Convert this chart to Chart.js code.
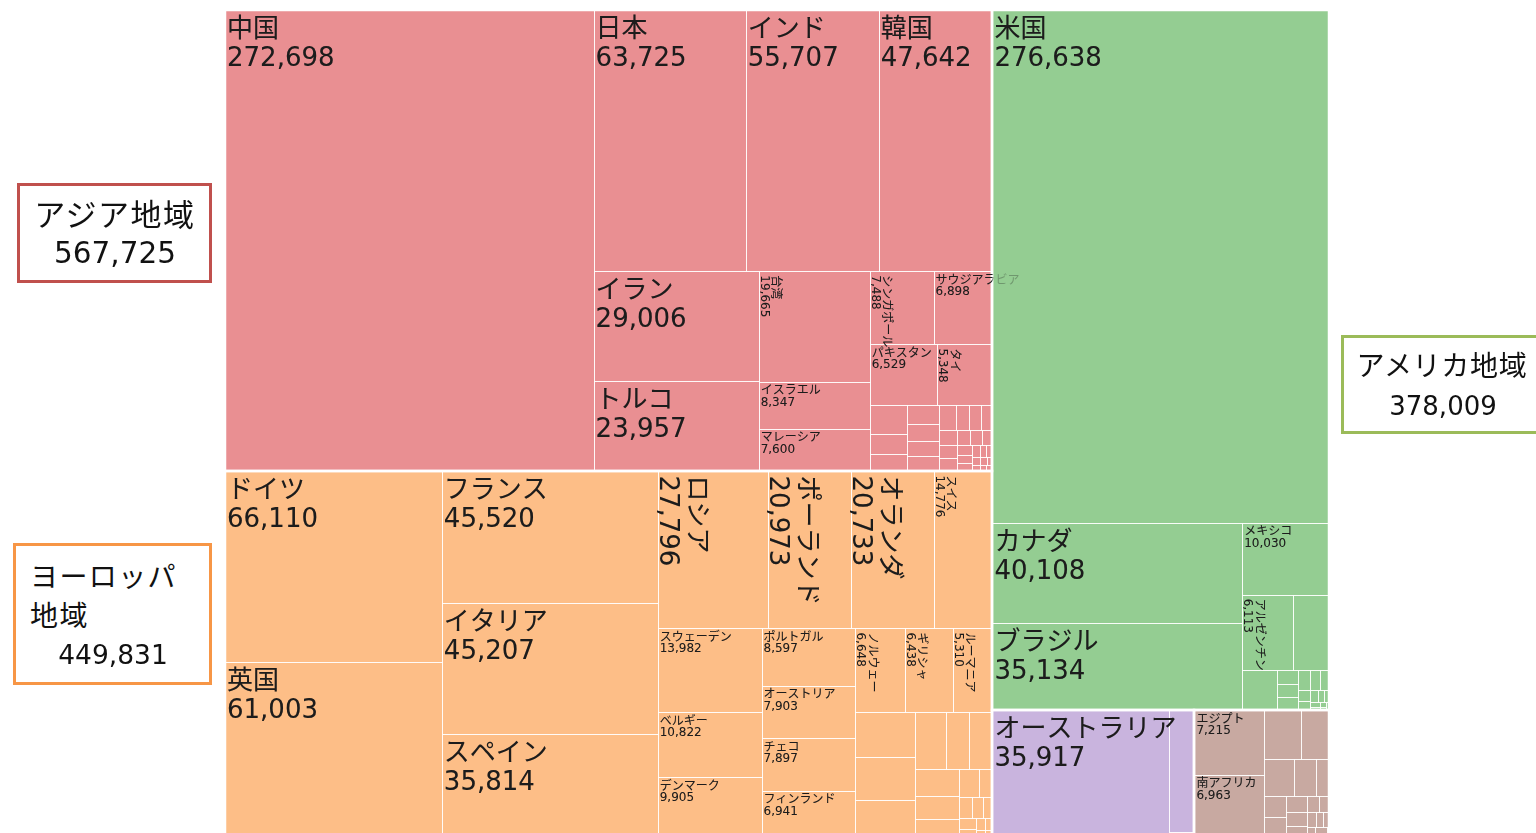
<!DOCTYPE html>
<html lang="ja">
<head>
<meta charset="utf-8">
<script src="https://cdn.jsdelivr.net/npm/chart.js@4.4.1/dist/chart.umd.min.js"></script>
<style>
html,body{margin:0;padding:0;background:#fff;overflow:hidden;width:1536px;height:833px;}
#wrap{position:absolute;left:0;top:0;width:1536px;height:842px;}
.box{position:absolute;box-sizing:border-box;background:#fff;}
.t{position:absolute;white-space:nowrap;color:#111;}
.jp{font-family:'Noto Sans CJK JP',sans-serif;}
.num{font-family:'DejaVu Sans',sans-serif;}
</style>
</head>
<body>
<div id="wrap"><canvas id="c" width="1536" height="842"></canvas></div>
<div id="boxes"></div>
<script>
// ---------------- data ----------------
const regionNames = ['アジア地域', 'ヨーロッパ地域', 'アメリカ地域', 'オセアニア地域', 'アフリカ地域'];

const asiaNames = ['中国','日本','インド','韓国','イラン','トルコ','台湾','イスラエル','マレーシア','シンガポール','サウジアラビア','パキスタン','タイ',
  'ベトナム','インドネシア','アラブ首長国連邦','バングラデシュ','イラク','カタール','ヨルダン','レバノン','カザフスタン','オマーン','スリランカ',
  'クウェート','フィリピン','ネパール','パレスチナ','モンゴル','ウズベキスタン','アゼルバイジャン','ジョージア','アルメニア','カンボジア','ミャンマー',
  'ブルネイ','バーレーン','ラオス','イエメン','アフガニスタン','キルギス','タジキスタン'];
const asiaValues = [272698,63725,55707,47642,29006,23957,19665,8347,7600,7488,6898,6529,5348,
  1790,1200,1030,1010,870,780,770,660,560,470,460,
  420,400,380,300,280,250,220,200,180,160,140,120,100,90,80,70,65,60];

const europeNames = ['ドイツ','英国','フランス','イタリア','スペイン','ロシア','ポーランド','オランダ','スイス','スウェーデン','ベルギー','デンマーク',
  'ポルトガル','オーストリア','チェコ','フィンランド','ノルウェー','ギリシャ','ルーマニア',
  'アイルランド','ハンガリー','ウクライナ','スロバキア','セルビア','スロベニア','クロアチア','ブルガリア','リトアニア','エストニア','ベラルーシ',
  'ラトビア','ルクセンブルク','キプロス','アイスランド','ボスニア・ヘルツェゴビナ','北マケドニア','モルドバ','アルバニア','マルタ','モンテネグロ'];
const europeValues = [66110,61003,45520,45207,35814,27796,20973,20733,14776,13982,10822,9905,8597,7903,7897,6941,6648,6438,5310,
  4250,4200,3500,2800,2150,2100,1950,1600,1300,880,600,
  420,380,330,280,220,180,130,100,70,16];

const americaNames = ['米国','カナダ','ブラジル','メキシコ','アルゼンチン','チリ','コロンビア','ペルー','ウルグアイ','ベネズエラ','キューバ','エクアドル',
  'コスタリカ','ジャマイカ','パナマ','トリニダード・トバゴ','ボリビア','グアテマラ','パラグアイ','ドミニカ共和国','ホンジュラス','ニカラグア','エルサルバドル'];
const americaValues = [276638,40108,35134,10030,6113,4300,2300,470,440,440,400,320,280,220,180,150,120,100,80,60,50,40,36];

const oceaniaNames = ['オーストラリア','ニュージーランド','フィジー'];
const oceaniaValues = [35917,4900,200];

const africaNames = ['エジプト','南アフリカ','チュニジア','ナイジェリア','アルジェリア','モロッコ','エチオピア','ケニア','ガーナ','ウガンダ','カメルーン',
  'タンザニア','スーダン','セネガル','ジンバブエ','ボツワナ','マラウイ','ザンビア','ベナン','ブルキナファソ','コートジボワール'];
const africaValues = [7215,6963,2850,2150,1780,1300,780,760,700,560,450,380,300,250,220,180,150,120,100,80,35];

// label rules
const LABEL_MIN = 5000;   // countries below this value carry no label
const BIG_MIN = 20000;    // countries at or above this value use the large font

// ---------------- styles ----------------
const regionColors = ['#E98F92', '#FDBE87', '#94CD92', '#C9B4DE', '#C8A9A1'];
const boxBorders = ['#C0504D', '#F79646', '#9BBB59'];

// ---------------- build hierarchy ----------------
const groupsSrc = [
  [asiaNames, asiaValues], [europeNames, europeValues], [americaNames, americaValues],
  [oceaniaNames, oceaniaValues], [africaNames, africaValues]
];
const groups = groupsSrc.map(([names, vals], gi) => {
  const children = names.map((n, i) => ({ name: n, value: vals[i], group: gi }))
    .sort((a, b) => b.value - a.value);
  return { name: regionNames[gi], index: gi, value: children.reduce((s, c) => s + c.value, 0), children };
}).sort((a, b) => b.value - a.value);

const fmt = v => v.toLocaleString('en-US');

// squarified layout (golden-ratio variant)
const PHI = (1 + Math.sqrt(5)) / 2;
function squarify(nodes, x0, y0, x1, y1) {
  let value = nodes.reduce((s, n) => s + n.value, 0);
  let i0 = 0, i1 = 0;
  const n = nodes.length;
  while (i0 < n) {
    const dx = x1 - x0, dy = y1 - y0;
    let sumValue = nodes[i1++].value;
    let minValue = sumValue, maxValue = sumValue;
    const alpha = Math.max(dy / dx, dx / dy) / (value * PHI);
    let beta = sumValue * sumValue * alpha;
    let minRatio = Math.max(maxValue / beta, beta / minValue);
    for (; i1 < n; ++i1) {
      const nv = nodes[i1].value;
      sumValue += nv;
      if (nv < minValue) minValue = nv;
      if (nv > maxValue) maxValue = nv;
      beta = sumValue * sumValue * alpha;
      const newRatio = Math.max(maxValue / beta, beta / minValue);
      if (newRatio > minRatio) { sumValue -= nv; break; }
      minRatio = newRatio;
    }
    const row = nodes.slice(i0, i1);
    if (dx < dy) {
      const yEnd = y0 + dy * sumValue / value;
      let x = x0;
      row.forEach(nd => { const w = dx * nd.value / sumValue; nd.x0 = x; nd.x1 = x + w; nd.y0 = y0; nd.y1 = yEnd; x += w; });
      y0 = yEnd;
    } else {
      const xEnd = x0 + dx * sumValue / value;
      let y = y0;
      row.forEach(nd => { const h = dy * nd.value / sumValue; nd.y0 = y; nd.y1 = y + h; nd.x0 = x0; nd.x1 = xEnd; y += h; });
      x0 = xEnd;
    }
    value -= sumValue;
    i0 = i1;
  }
}

const FONT_STACK = "'DejaVu Sans', 'Noto Sans CJK JP', sans-serif";

const treemapPlugin = {
  id: 'treemap',
  afterDatasetsDraw(chart) {
    const ctx = chart.ctx;
    const xs = chart.scales.x, ys = chart.scales.y;
    const L = xs.getPixelForValue(0), R = xs.getPixelForValue(1);
    const T = ys.getPixelForValue(1), B = ys.getPixelForValue(0);
    squarify(groups, L, T, R, B);
    groups.forEach(g => squarify(g.children, g.x0, g.y0, g.x1, g.y1));

    ctx.save();
    // fills
    groups.forEach(g => {
      ctx.fillStyle = regionColors[g.index];
      ctx.fillRect(g.x0, g.y0, g.x1 - g.x0, g.y1 - g.y0);
    });
    // cell borders
    ctx.strokeStyle = 'rgba(255,255,255,0.75)';
    ctx.lineWidth = 1;
    groups.forEach(g => g.children.forEach(c => {
      const x0 = Math.round(c.x0) + 0.5, y0 = Math.round(c.y0) + 0.5;
      const x1 = Math.round(c.x1) + 0.5, y1 = Math.round(c.y1) + 0.5;
      ctx.strokeRect(x0, y0, x1 - x0, y1 - y0);
    }));
    // group borders
    ctx.strokeStyle = '#ffffff';
    ctx.lineWidth = 2.5;
    groups.forEach(g => {
      const x0 = Math.round(g.x0), y0 = Math.round(g.y0), x1 = Math.round(g.x1), y1 = Math.round(g.y1);
      ctx.strokeRect(x0, y0, x1 - x0, y1 - y0);
    });
    // labels
    ctx.fillStyle = '#1c1c1c';
    ctx.textBaseline = 'alphabetic';
    ctx.textAlign = 'left';
    groups.forEach(g => g.children.forEach(c => {
      if (c.value < LABEL_MIN) return;
      const big = c.value >= BIG_MIN;
      const fs = big ? 26 : 12;
      const b1 = big ? 27 : 12.5, b2 = big ? 56 : 24;
      ctx.font = fs + 'px ' + FONT_STACK;
      const t1 = c.name, t2 = fmt(c.value);
      const tw = Math.max(ctx.measureText(t1).width, ctx.measureText(t2).width);
      const w = c.x1 - c.x0, h = c.y1 - c.y0;
      const rotate = h > 0.97 * w && w < 112 && tw <= h + 2;
      const draw = () => {
        if (rotate) {
          ctx.save();
          ctx.translate(c.x0 + 2 + b2, c.y0 + 3);
          ctx.rotate(Math.PI / 2);
          ctx.fillText(t1, 1, b1);
          ctx.fillText(t2, 1, b2);
          ctx.restore();
        } else {
          ctx.fillText(t1, c.x0 + 2, c.y0 + b1);
          ctx.fillText(t2, c.x0 + 2, c.y0 + b2);
        }
      };
      // faint overflow outside the region, full strength inside it
      ctx.save();
      ctx.globalAlpha = 0.3;
      draw();
      ctx.restore();
      ctx.save();
      ctx.beginPath();
      ctx.rect(g.x0, g.y0, g.x1 - g.x0, g.y1 - g.y0);
      ctx.clip();
      draw();
      ctx.restore();
    }));
    ctx.restore();
  }
};

new Chart(document.getElementById('c'), {
  type: 'scatter',
  data: { datasets: [{ data: [], pointRadius: 0 }] },
  options: {
    responsive: false,
    animation: false,
    events: [],
    layout: { padding: { left: 225, top: 10, right: 207, bottom: 5 } },
    plugins: { legend: { display: false }, tooltip: { enabled: false } },
    scales: {
      x: { type: 'linear', min: 0, max: 1, display: false },
      y: { type: 'linear', min: 0, max: 1, display: false }
    }
  },
  plugins: [treemapPlugin]
});

// ---------------- region label boxes ----------------
const totals = {};
groups.forEach(g => { totals[g.index] = g.value; });
const boxesEl = document.getElementById('boxes');
function addDiv(cls, css, text) {
  const d = document.createElement('div');
  d.className = cls;
  Object.assign(d.style, css);
  if (text !== undefined) d.textContent = text;
  boxesEl.appendChild(d);
  return d;
}
function centered(cls, text, cx, cy, fs, extra) {
  const d = addDiv('t ' + cls, Object.assign({ left: (cx - 150) + 'px', width: '300px', textAlign: 'center',
    top: (cy - fs / 2) + 'px', height: fs + 'px', lineHeight: fs + 'px', fontSize: fs + 'px' }, extra || {}), text);
  return d;
}
// Asia
addDiv('box', { left: '17px', top: '183px', width: '195px', height: '100px', border: '3px solid ' + boxBorders[0] });
centered('jp', regionNames[0], 115, 212, 31, { letterSpacing: '1.5px' });
centered('num', fmt(totals[0]), 115, 254, 29.5);
// Europe
addDiv('box', { left: '13px', top: '543px', width: '199px', height: '142px', border: '3px solid ' + boxBorders[1] });
addDiv('t jp', { left: '30px', top: '556px', width: '165px', whiteSpace: 'normal', fontSize: '28px', lineHeight: '39px', letterSpacing: '1.4px' }, regionNames[1]);
centered('num', fmt(totals[1]), 113, 655, 26.5);
// America
addDiv('box', { left: '1341px', top: '335px', width: '205px', height: '99px', border: '3px solid ' + boxBorders[2] });
centered('jp', regionNames[2], 1442, 364, 28, { letterSpacing: '0.7px' });
centered('num', fmt(totals[2]), 1443, 406, 26);
</script>
</body>
</html>
